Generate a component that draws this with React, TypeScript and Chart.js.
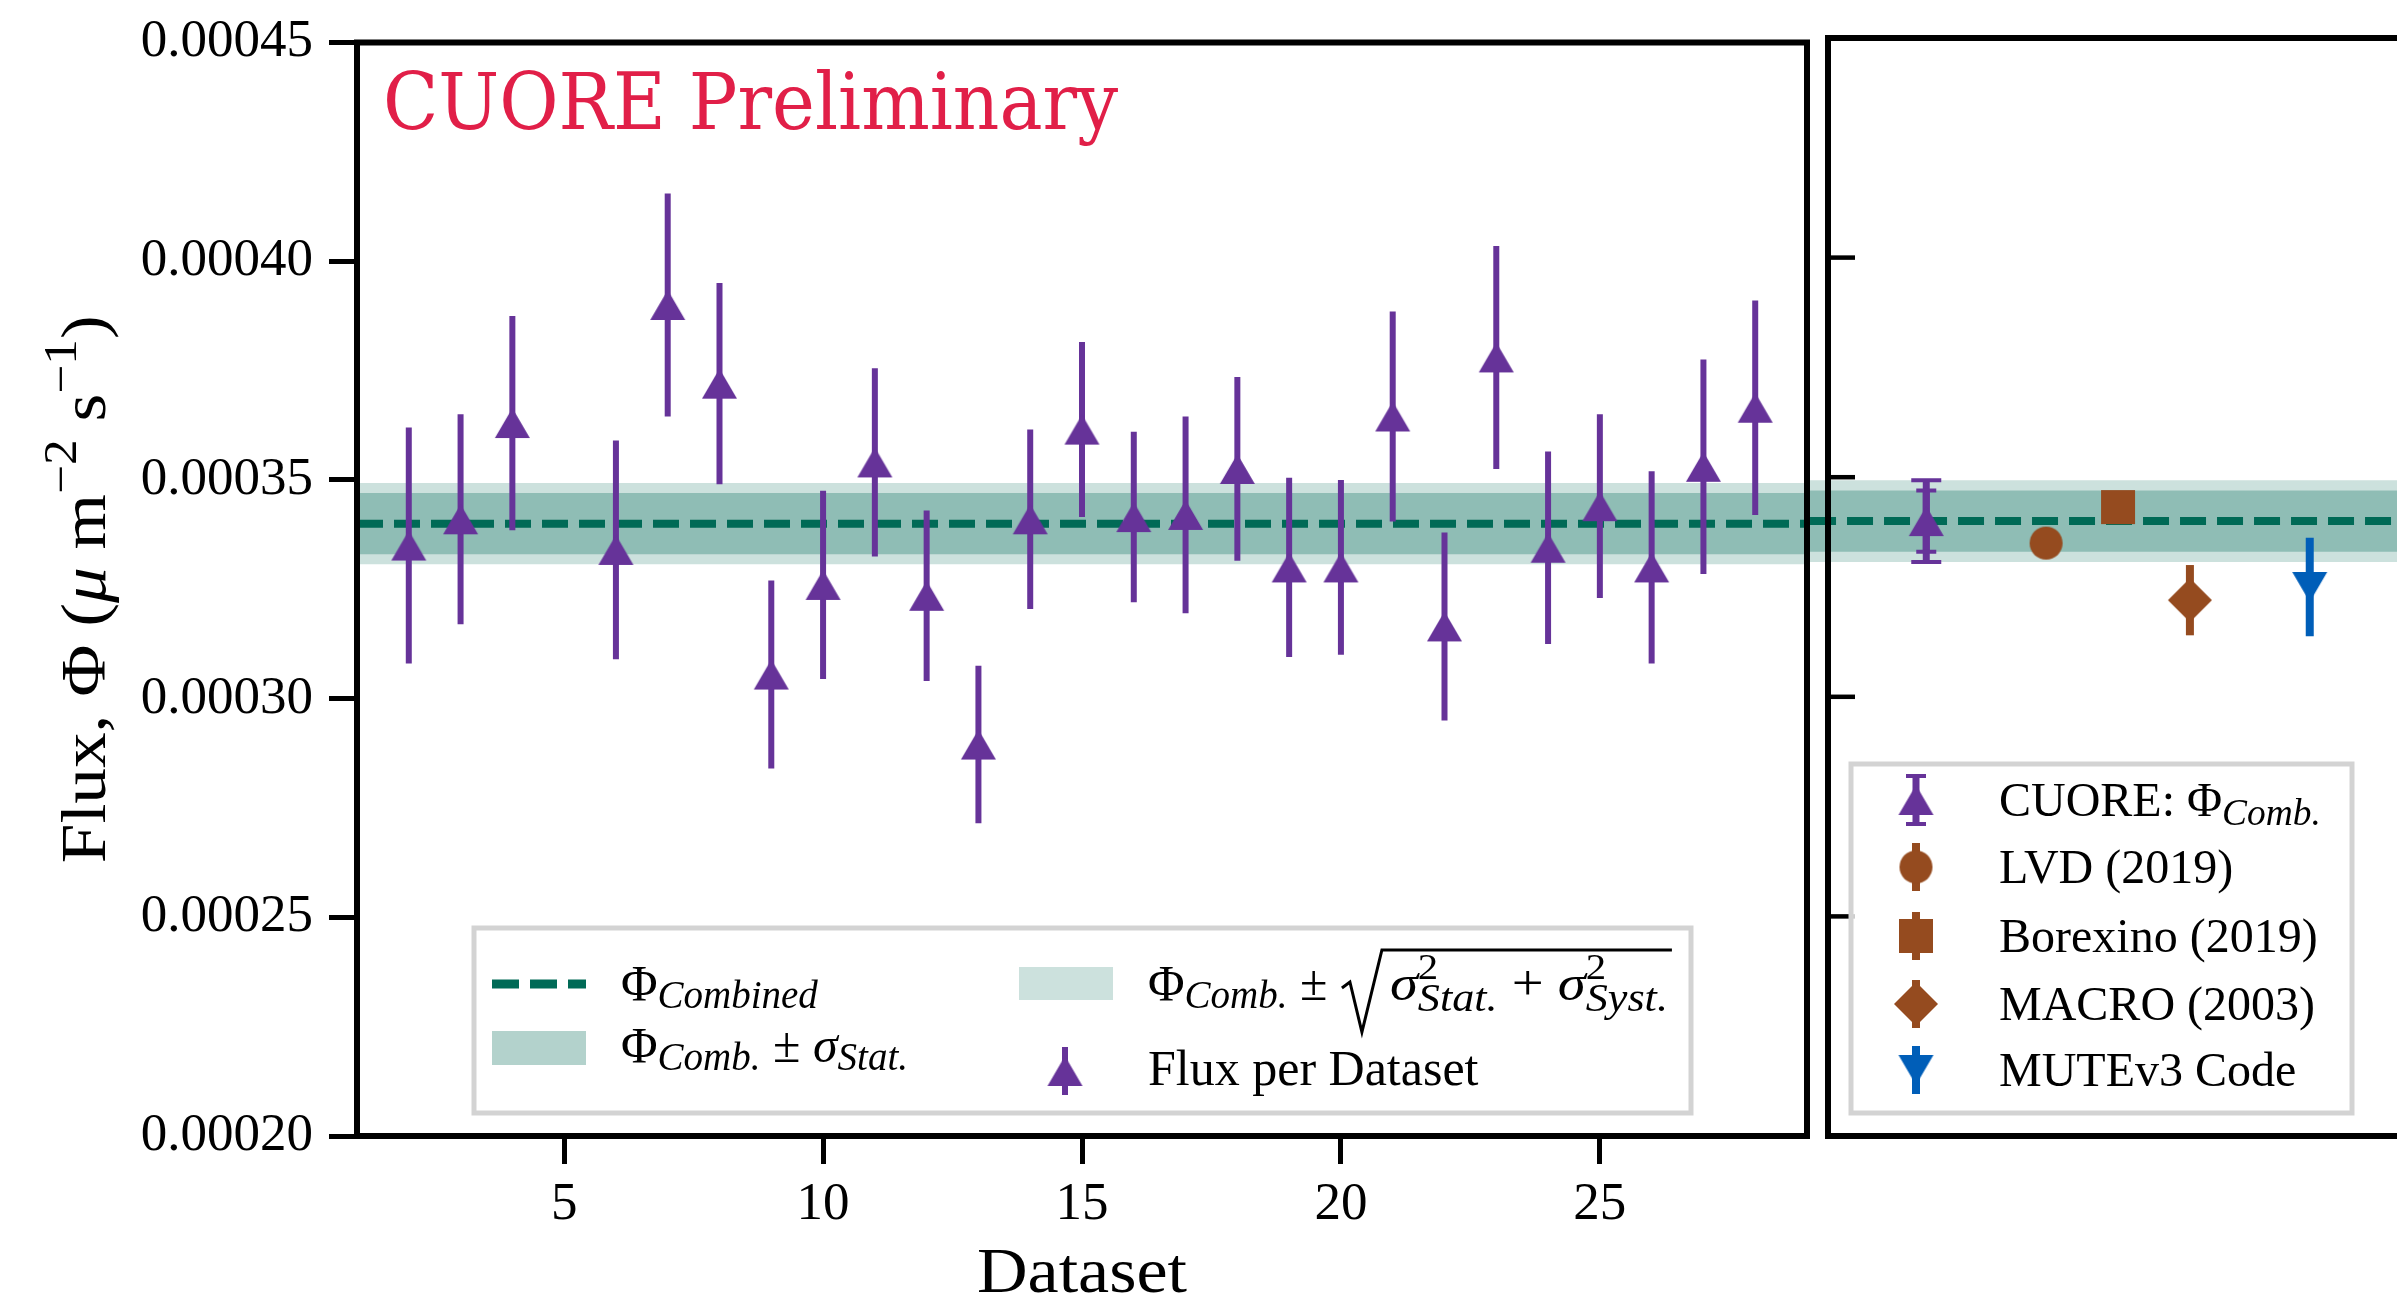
import React, { useEffect, useRef } from 'react';
import { Chart, registerables } from 'chart.js';

Chart.register(...registerables);

// ---------------- data ----------------
const datasetNumbers = [2, 3, 4, 6, 7, 8, 9, 10, 11, 12, 13, 14, 15, 16, 17, 18, 19, 20, 21, 22, 23, 24, 25, 26, 27, 28];
const fluxPerDataset = [
  3.35e-4, 3.41e-4, 3.63e-4, 3.34e-4, 3.90e-4, 3.72e-4, 3.055e-4, 3.26e-4, 3.54e-4, 3.235e-4,
  2.895e-4, 3.41e-4, 3.615e-4, 3.415e-4, 3.42e-4, 3.525e-4, 3.30e-4, 3.30e-4, 3.645e-4, 3.165e-4,
  3.78e-4, 3.345e-4, 3.44e-4, 3.30e-4, 3.53e-4, 3.665e-4,
];
const fluxErrPerDataset = [
  2.7e-5, 2.4e-5, 2.45e-5, 2.5e-5, 2.55e-5, 2.3e-5, 2.15e-5, 2.15e-5, 2.15e-5, 1.95e-5,
  1.8e-5, 2.05e-5, 2.0e-5, 1.95e-5, 2.25e-5, 2.1e-5, 2.05e-5, 2.0e-5, 2.4e-5, 2.15e-5,
  2.55e-5, 2.2e-5, 2.1e-5, 2.2e-5, 2.45e-5, 2.45e-5,
];
const combinedFlux = 3.40e-4;
const combinedStatErr = 0.70e-5;
const combinedTotalErr = 0.93e-5;

const experimentNames = ['CUORE', 'LVD (2019)', 'Borexino (2019)', 'MACRO (2003)', 'MUTEv3 Code'];
const experimentPositions = [0, 1, 1.6, 2.2, 3.2];
const experimentFlux = [3.40e-4, 3.35e-4, 3.432e-4, 3.22e-4, 3.25e-4];
const experimentErr = [0.93e-5, 0.3e-5, 0.03e-5, 0.8e-5, 1.12e-5];

const yTickValues = [0.0002, 0.00025, 0.0003, 0.00035, 0.0004, 0.00045];
const xTickValues = [5, 10, 15, 20, 25];
const datasetAxisRange = [1, 29];
const fluxAxisRange = [0.0002, 0.00045];
const experimentAxisRange = [-0.82, 4.12];
const gapExtension = 0.15;

// ---------------- styles ----------------
const PURPLE = '#663399';
const GREEN = '#006A56';
const BROWN = '#954B1F';
const BLUE = '#005EB8';
const BAND_OUTER = '#CCE1DD';
const BAND_INNER = '#8FBDB5';
const LEG_INNER = '#B3D2CC';
const RED = '#E11F48';
const SERIF = "'Liberation Serif', 'Times New Roman', serif";
const SUB = 0.78;

type Run = { t: string; it?: boolean; s?: number; dy?: number; noAdv?: boolean };

function fontOf(r: Run, size: number) {
  return `${r.it ? 'italic ' : ''}${(size * (r.s ?? 1)).toFixed(1)}px ${SERIF}`;
}
function runsWidth(ctx: CanvasRenderingContext2D, runs: Run[], size: number) {
  let w = 0;
  for (const r of runs) {
    ctx.font = fontOf(r, size);
    if (!r.noAdv) w += ctx.measureText(r.t).width;
  }
  return w;
}
function drawRuns(ctx: CanvasRenderingContext2D, runs: Run[], x: number, y: number, size: number) {
  let cx = x;
  ctx.textAlign = 'left';
  ctx.textBaseline = 'alphabetic';
  for (const r of runs) {
    ctx.font = fontOf(r, size);
    ctx.fillText(r.t, cx, y + (r.dy ?? 0) * size);
    if (!r.noAdv) cx += ctx.measureText(r.t).width;
  }
  return cx;
}

function makeMarker(kind: string, color: string): HTMLCanvasElement {
  const dims: Record<string, [number, number]> = {
    tri: [35, 30], triDown: [35, 30], circle: [33, 33], square: [34, 34], diamond: [44, 44],
  };
  const [w, h] = dims[kind];
  const pad = 2;
  const c = document.createElement('canvas');
  c.width = w + 2 * pad;
  c.height = h + 2 * pad;
  const g = c.getContext('2d')!;
  g.fillStyle = color;
  g.beginPath();
  const x0 = pad, y0 = pad;
  if (kind === 'tri') { g.moveTo(x0 + w / 2, y0); g.lineTo(x0 + w, y0 + h); g.lineTo(x0, y0 + h); }
  else if (kind === 'triDown') { g.moveTo(x0, y0); g.lineTo(x0 + w, y0); g.lineTo(x0 + w / 2, y0 + h); }
  else if (kind === 'circle') { g.arc(x0 + w / 2, y0 + h / 2, w / 2, 0, Math.PI * 2); }
  else if (kind === 'square') { g.rect(x0, y0, w, h); }
  else { g.moveTo(x0 + w / 2, y0); g.lineTo(x0 + w, y0 + h / 2); g.lineTo(x0 + w / 2, y0 + h); g.lineTo(x0, y0 + h / 2); }
  g.closePath();
  g.fill();
  return c;
}

function drawImg(ctx: CanvasRenderingContext2D, img: HTMLCanvasElement, x: number, y: number) {
  ctx.drawImage(img, x - img.width / 2, y - img.height / 2);
}

const bandWidth = (err: number) => (c: any) => {
  const ys = c.chart.scales.y;
  if (!ys) return 1;
  const v = Math.abs(ys.getPixelForValue(combinedFlux - err) - ys.getPixelForValue(combinedFlux + err));
  return isFinite(v) && v > 0 ? v : 1;
};

const errorBarPlugin = {
  id: 'errorBars',
  beforeDatasetDraw(chart: any, args: any) {
    const ds: any = chart.data.datasets[args.index];
    if (!ds.errorBars) return;
    const ys = chart.scales.y;
    const ctx: CanvasRenderingContext2D = chart.ctx;
    ctx.save();
    for (const eb of ds.errorBars) {
      ctx.strokeStyle = eb.color;
      ctx.lineCap = 'butt';
      args.meta.data.forEach((el: any, i: number) => {
        const v = ds.data[i].y;
        const e = eb.values[i];
        const yTop = ys.getPixelForValue(v + e);
        const yBot = ys.getPixelForValue(v - e);
        ctx.lineWidth = eb.width;
        ctx.beginPath();
        ctx.moveTo(el.x, yTop);
        ctx.lineTo(el.x, yBot);
        ctx.stroke();
        if (eb.cap) {
          ctx.lineWidth = eb.capThickness;
          ctx.beginPath();
          ctx.moveTo(el.x - eb.cap / 2, yTop);
          ctx.lineTo(el.x + eb.cap / 2, yTop);
          ctx.moveTo(el.x - eb.cap / 2, yBot);
          ctx.lineTo(el.x + eb.cap / 2, yBot);
          ctx.stroke();
        }
      });
    }
    ctx.restore();
  },
};

const framePlugin = {
  id: 'frame',
  afterDatasetsDraw(chart: any) {
    const { ctx, chartArea: a } = chart;
    ctx.save();
    ctx.strokeStyle = '#000';
    ctx.lineWidth = 6;
    ctx.lineJoin = 'miter';
    ctx.strokeRect(a.left, a.top, a.right - a.left, a.bottom - a.top);
    ctx.restore();
  },
};

function legendBox(ctx: CanvasRenderingContext2D, x: number, y: number, w: number, h: number) {
  ctx.fillStyle = 'rgba(255,255,255,0.8)';
  ctx.fillRect(x, y, w, h);
  ctx.strokeStyle = '#D3D3D3';
  ctx.lineWidth = 5;
  ctx.strokeRect(x, y, w, h);
}

export default function App() {
  const leftRef = useRef<HTMLCanvasElement>(null);
  const rightRef = useRef<HTMLCanvasElement>(null);

  useEffect(() => {
    const triUp = makeMarker('tri', PURPLE);
    const circle = makeMarker('circle', BROWN);
    const square = makeMarker('square', BROWN);
    const diamond = makeMarker('diamond', BROWN);
    const triDown = makeMarker('triDown', BLUE);

    const leftDecor = {
      id: 'leftDecor',
      afterDraw(chart: any) {
        const ctx: CanvasRenderingContext2D = chart.ctx;
        const a = chart.chartArea;
        ctx.save();
        // CUORE Preliminary
        const label = 'CUORE Preliminary';
        ctx.font = `78px 'DejaVu Serif', serif`;
        const w = ctx.measureText(label).width;
        ctx.fillStyle = RED;
        ctx.textAlign = 'left';
        ctx.textBaseline = 'alphabetic';
        ctx.translate(a.left + 26, 129);
        ctx.scale(735 / w, 1);
        ctx.fillText(label, 0, 0);
        ctx.restore();

        ctx.save();
        ctx.fillStyle = '#000';
        // x title
        ctx.font = `64px ${SERIF}`;
        const xw = ctx.measureText('Dataset').width;
        ctx.save();
        ctx.translate((a.left + a.right) / 2, 1292);
        ctx.scale(210 / xw, 1);
        ctx.textAlign = 'center';
        ctx.textBaseline = 'alphabetic';
        ctx.fillText('Dataset', 0, 0);
        ctx.restore();
        // y title
        const yRuns: Run[] = [
          { t: 'Flux, Φ (' }, { t: 'μ', it: true }, { t: ' m' }, { t: '−2', s: 0.72, dy: -0.45 },
          { t: ' s' }, { t: '−1', s: 0.72, dy: -0.45 }, { t: ')' },
        ];
        ctx.save();
        ctx.translate(105, (a.top + a.bottom) / 2);
        ctx.rotate(-Math.PI / 2);
        const yw = runsWidth(ctx, yRuns, 64);
        ctx.scale(548 / yw, 1);
        drawRuns(ctx, yRuns, -yw / 2, 0, 64);
        ctx.restore();

        // legend
        const FS = 50;
        legendBox(ctx, 474, 928, 1217, 185);
        // row 1 left: dashed handle
        ctx.strokeStyle = GREEN;
        ctx.lineWidth = 9;
        ctx.setLineDash([27, 11]);
        ctx.beginPath();
        ctx.moveTo(492, 984);
        ctx.lineTo(586, 984);
        ctx.stroke();
        ctx.setLineDash([]);
        ctx.fillStyle = '#000';
        drawRuns(ctx, [{ t: 'Φ' }, { t: 'Combined', it: true, s: SUB, dy: 0.16 }], 621, 1000, FS);
        // row 2 left
        ctx.fillStyle = LEG_INNER;
        ctx.fillRect(492, 1031, 94, 34);
        ctx.fillStyle = '#000';
        drawRuns(ctx, [
          { t: 'Φ' }, { t: 'Comb.', it: true, s: SUB, dy: 0.16 }, { t: ' ± ' },
          { t: 'σ', it: true }, { t: 'Stat.', it: true, s: SUB, dy: 0.16 },
        ], 621, 1062, FS);
        // row 1 right
        ctx.fillStyle = BAND_OUTER;
        ctx.fillRect(1019, 967, 94, 33);
        ctx.fillStyle = '#000';
        const base = 1000;
        const cx = drawRuns(ctx, [{ t: 'Φ' }, { t: 'Comb.', it: true, s: SUB, dy: 0.16 }, { t: ' ± ' }], 1148, base, FS);
        const radicand: Run[] = [
          { t: 'σ', it: true }, { t: '2', s: 0.72, dy: -0.42, noAdv: true }, { t: 'Stat.', it: true, s: SUB, dy: 0.22 },
          { t: ' + ' },
          { t: 'σ', it: true }, { t: '2', s: 0.72, dy: -0.42, noAdv: true }, { t: 'Syst.', it: true, s: SUB, dy: 0.22 },
        ];
        const rw = runsWidth(ctx, radicand, FS);
        const targetW = 278;
        const rl = cx + 2;
        ctx.strokeStyle = '#000';
        ctx.lineWidth = 3;
        ctx.lineJoin = 'miter';
        ctx.beginPath();
        ctx.moveTo(rl, base - 12);
        ctx.lineTo(rl + 8, base - 18);
        ctx.lineTo(rl + 20, base + 32);
        ctx.lineTo(rl + 40, base - 50);
        ctx.lineTo(rl + 48 + targetW + 4, base - 50);
        ctx.stroke();
        ctx.save();
        ctx.translate(rl + 48, 0);
        ctx.scale(targetW / rw, 1);
        drawRuns(ctx, radicand, 0, base, FS);
        ctx.restore();
        // row 2 right
        ctx.strokeStyle = PURPLE;
        ctx.lineWidth = 6;
        ctx.beginPath();
        ctx.moveTo(1065, 1047);
        ctx.lineTo(1065, 1095);
        ctx.stroke();
        drawImg(ctx, triUp, 1065, 1071);
        ctx.fillStyle = '#000';
        drawRuns(ctx, [{ t: 'Flux per Dataset' }], 1148, 1085, FS);
        ctx.restore();
      },
    };

    const pts = datasetNumbers.map((x, i) => ({ x, y: fluxPerDataset[i] }));
    const lineSpan = [
      { x: datasetAxisRange[0], y: combinedFlux },
      { x: datasetAxisRange[1], y: combinedFlux },
    ];

    const tickFont = { family: SERIF, size: 53, lineHeight: 1 };

    const left = new Chart(leftRef.current!, {
      type: 'line',
      data: {
        datasets: [
          {
            label: 'Flux per Dataset', data: pts, showLine: false, pointStyle: triUp as any,
            pointRadius: 10, pointHoverRadius: 10, order: 0,
            errorBars: [{ values: fluxErrPerDataset, color: PURPLE, width: 6 }],
          } as any,
          {
            label: 'Φ Combined', data: lineSpan, borderColor: GREEN, borderWidth: 8, borderDash: [26, 11],
            borderCapStyle: 'butt', pointRadius: 0, order: 1,
          },
          {
            label: 'stat', data: lineSpan, borderColor: BAND_INNER, borderWidth: bandWidth(combinedStatErr) as any,
            borderCapStyle: 'butt', pointRadius: 0, order: 2,
          },
          {
            label: 'total', data: lineSpan, borderColor: BAND_OUTER, borderWidth: bandWidth(combinedTotalErr) as any,
            borderCapStyle: 'butt', pointRadius: 0, order: 3,
          },
        ],
      },
      options: {
        responsive: false,
        devicePixelRatio: 1,
        animation: false,
        events: [],
        layout: { padding: { left: 0, top: 38, right: 23, bottom: 0 }, autoPadding: false },
        plugins: { legend: { display: false }, tooltip: { enabled: false } },
        scales: {
          x: {
            type: 'linear', min: datasetAxisRange[0], max: datasetAxisRange[1],
            afterBuildTicks: (s: any) => { s.ticks = xTickValues.map((v) => ({ value: v })); },
            afterFit: (s: any) => { s.height = 164; },
            grid: { drawOnChartArea: false, drawTicks: true, tickLength: 28, tickWidth: 5, tickColor: '#000' },
            border: { display: false },
            ticks: { font: tickFont, color: '#000', padding: 15, maxRotation: 0, autoSkip: false, callback: (v: any) => String(v) },
          },
          y: {
            type: 'linear', min: fluxAxisRange[0], max: fluxAxisRange[1],
            afterBuildTicks: (s: any) => { s.ticks = yTickValues.map((v) => ({ value: v })); },
            afterFit: (s: any) => { s.width = 357; },
            grid: { drawOnChartArea: false, drawTicks: true, tickLength: 28, tickWidth: 5, tickColor: '#000' },
            border: { display: false },
            ticks: { font: tickFont, color: '#000', padding: 16, callback: (v: any) => Number(v).toFixed(5) },
          },
        },
      } as any,
      plugins: [errorBarPlugin, framePlugin, leftDecor],
    });

    // ---------- right panel ----------
    const rightSpan = [
      { x: experimentAxisRange[0] - gapExtension, y: combinedFlux },
      { x: experimentAxisRange[1], y: combinedFlux },
    ];
    const markers = [triUp, circle, square, diamond, triDown];
    const colors = [PURPLE, BROWN, BROWN, BROWN, BLUE];

    const expDatasets: any[] = experimentNames.map((name, i) => ({
      label: name,
      data: [{ x: experimentPositions[i], y: experimentFlux[i] }],
      showLine: false,
      pointStyle: markers[i],
      pointRadius: 10,
      order: 0,
      errorBars: i === 0
        ? [
          { values: [experimentErr[0]], color: PURPLE, width: 7, cap: 30, capThickness: 4 },
          { values: [combinedStatErr], color: PURPLE, width: 7, cap: 20, capThickness: 4 },
        ]
        : [{ values: [experimentErr[i]], color: colors[i], width: 8 }],
    }));

    const rightTicks = {
      id: 'rightTicks',
      afterDatasetsDraw(chart: any) {
        const ctx: CanvasRenderingContext2D = chart.ctx;
        const ys = chart.scales.y;
        const a = chart.chartArea;
        ctx.save();
        ctx.strokeStyle = '#000';
        ctx.lineWidth = 4.5;
        for (const v of yTickValues) {
          const p = ys.getPixelForValue(v);
          ctx.beginPath();
          ctx.moveTo(a.left, p);
          ctx.lineTo(a.left + 27, p);
          ctx.stroke();
        }
        ctx.restore();
      },
    };

    const rightDecor = {
      id: 'rightDecor',
      afterDraw(chart: any) {
        const ctx: CanvasRenderingContext2D = chart.ctx;
        ctx.save();
        legendBox(ctx, 51, 764, 501, 349);
        const rows = [800, 867, 936, 1004, 1070];
        const mx = 116;
        rows.forEach((ry, i) => {
          ctx.strokeStyle = colors[i];
          ctx.lineWidth = i === 0 ? 7 : 8;
          ctx.beginPath();
          ctx.moveTo(mx, ry - 24);
          ctx.lineTo(mx, ry + 24);
          ctx.stroke();
          if (i === 0) {
            ctx.lineWidth = 4;
            ctx.beginPath();
            ctx.moveTo(mx - 10, ry - 24);
            ctx.lineTo(mx + 10, ry - 24);
            ctx.moveTo(mx - 10, ry + 24);
            ctx.lineTo(mx + 10, ry + 24);
            ctx.stroke();
          }
          drawImg(ctx, markers[i], mx, ry);
          ctx.fillStyle = '#000';
          const runs: Run[] = i === 0
            ? [{ t: experimentNames[0] + ': Φ' }, { t: 'Comb.', it: true, s: SUB, dy: 0.18 }]
            : [{ t: experimentNames[i] }];
          drawRuns(ctx, runs, 199, ry + 16, 48);
        });
        ctx.restore();
      },
    };

    const right = new Chart(rightRef.current!, {
      type: 'line',
      data: {
        datasets: [
          ...expDatasets,
          {
            label: 'Φ Combined', data: rightSpan, borderColor: GREEN, borderWidth: 8, borderDash: [26, 11],
            borderCapStyle: 'butt', pointRadius: 0, order: 1, clip: false,
          },
          {
            label: 'stat', data: rightSpan, borderColor: BAND_INNER, borderWidth: bandWidth(combinedStatErr) as any,
            borderCapStyle: 'butt', pointRadius: 0, order: 2, clip: false,
          },
          {
            label: 'total', data: rightSpan, borderColor: BAND_OUTER, borderWidth: bandWidth(combinedTotalErr) as any,
            borderCapStyle: 'butt', pointRadius: 0, order: 3, clip: false,
          },
        ],
      },
      options: {
        responsive: false,
        devicePixelRatio: 1,
        animation: false,
        events: [],
        layout: { padding: { left: 28, top: 38, right: 20, bottom: 164 }, autoPadding: false },
        plugins: { legend: { display: false }, tooltip: { enabled: false } },
        scales: {
          x: { type: 'linear', display: false, min: experimentAxisRange[0], max: experimentAxisRange[1] },
          y: { type: 'linear', display: false, min: fluxAxisRange[0], max: fluxAxisRange[1] },
        },
      } as any,
      plugins: [errorBarPlugin, framePlugin, rightTicks, rightDecor],
    });

    return () => {
      left.destroy();
      right.destroy();
    };
  }, []);

  return (
    <div style={{ position: 'fixed', left: 0, top: 0, width: 2397, height: 1300, overflow: 'hidden', background: '#fff' }}>
      <canvas ref={leftRef} width={1830} height={1300} style={{ position: 'absolute', left: 0, top: 0, width: 1830, height: 1300 }} />
      <canvas ref={rightRef} width={640} height={1300} style={{ position: 'absolute', left: 1800, top: 0, width: 640, height: 1300 }} />
    </div>
  );
}
